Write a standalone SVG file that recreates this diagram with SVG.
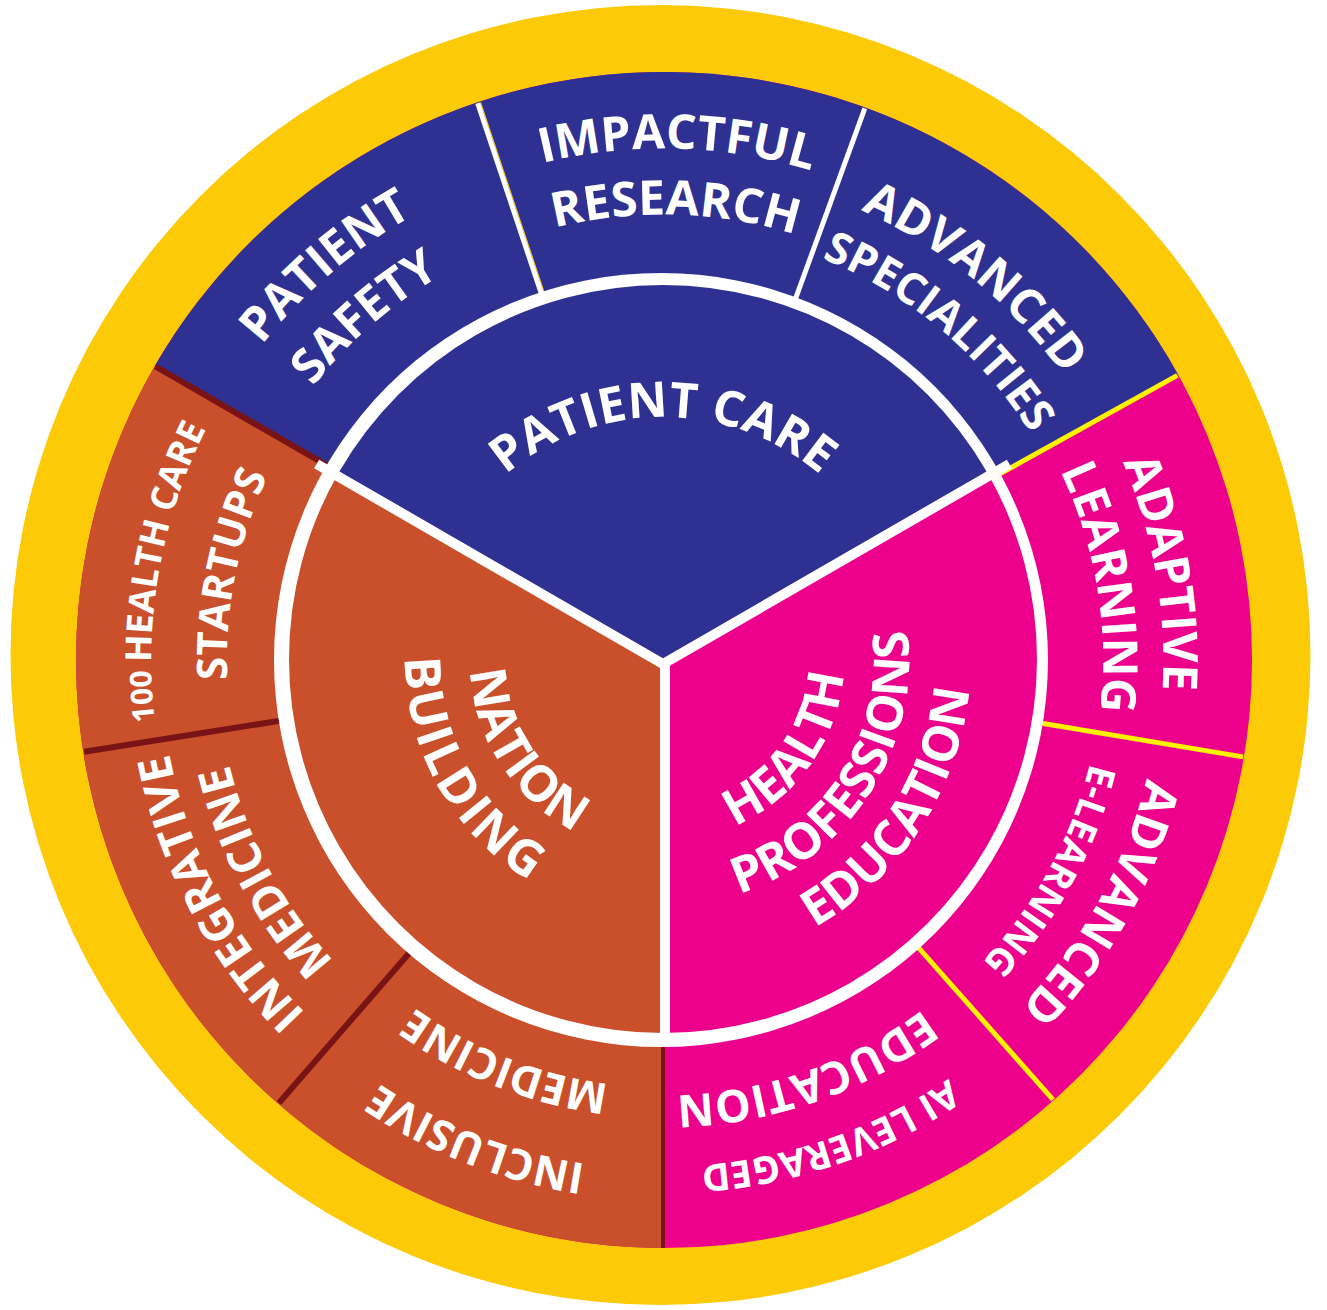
<svg xmlns="http://www.w3.org/2000/svg" width="1327" height="1310" viewBox="0 0 1327 1310">
<defs>
<style>
.t{font-family:"Open Sans","Liberation Sans",sans-serif;font-weight:700;fill:#fff;text-anchor:middle}
.big{font-size:49px}
.in{font-size:50px}
.o{font-size:48px}
.s{font-size:38px}
.w{stroke:#fff;stroke-width:5}
.y{stroke:#FFF200;stroke-width:5}
.r{stroke:#7A1315;stroke-width:6}
.g{stroke:#fff;stroke-width:10;stroke-linecap:butt}
</style>
<path id="p-pc" d="M420,660 A243,243 0 0 1 906,660"/>
<path id="p-nat" d="M557.9,498.1 A193,193 0 0 0 768.1,821.9"/>
<path id="p-bld" d="M536,435.4 A258,258 0 0 0 790,884.6"/>
<path id="p-hea" d="M556.5,808.8 A183,183 0 0 0 769.5,511.2"/>
<path id="p-pro" d="M530.8,867.5 A246,246 0 0 0 795.2,452.5"/>
<path id="p-edu" d="M494.2,920 A310,310 0 0 0 831.8,400"/>
<path id="p-pat" d="M275.7,991.9 A510,510 0 0 1 1050.3,328.1"/>
<path id="p-saf" d="M327.9,951.3 A444,444 0 0 1 998.1,368.7"/>
<path id="p-imp" d="M151.2,645.7 A512,512 0 0 1 1174.8,674.3"/>
<path id="p-res" d="M213.2,647.4 A450,450 0 0 1 1112.8,672.6"/>
<path id="p-adv" d="M277.1,345.3 A498,498 0 0 1 1048.9,974.7"/>
<path id="p-spe" d="M327.5,378.5 A438,438 0 0 1 998.5,941.5"/>
<path id="p-ada" d="M575.8,160.6 A507,507 0 0 1 750.2,1159.4"/>
<path id="p-lea" d="M591.1,225.9 A440,440 0 0 1 734.9,1094.1"/>
<path id="p-ade" d="M904.4,224.4 A498,498 0 0 1 421.6,1095.6"/>
<path id="p-eln" d="M875.8,268.1 A446,446 0 0 1 450.2,1051.9"/>
<path id="p-ail" d="M1143.4,491.8 A509,509 0 0 1 182.6,828.2"/>
<path id="p-aie" d="M1078.5,515.3 A440,440 0 0 1 247.5,804.7"/>
<path id="p-inc" d="M1138.2,845.3 A510,510 0 0 1 187.8,474.7"/>
<path id="p-inm" d="M1065.2,817.6 A432,432 0 0 1 260.8,502.4"/>
<path id="p-int" d="M898.2,1108 A506,506 0 0 1 427.8,212"/>
<path id="p-itm" d="M872.4,1053.8 A446,446 0 0 1 453.6,266.2"/>
<path id="p-hc" d="M573.1,1170.1 A518,518 0 0 1 752.9,149.9"/>
<path id="p-st" d="M578.3,1087.7 A436,436 0 0 1 747.7,232.3"/>
</defs>
<rect width="1327" height="1310" fill="#fff"/>
<circle cx="660.5" cy="655" r="650" fill="#FDCA08"/>
<g id="outer-ring">
<circle cx="664" cy="660" r="588" fill="#EC008C"/>
<path d="M664,660 L1178.3,374.9 A588,588 0 0 0 154.8,366 Z" fill="#2E3192"/>
<path d="M664,660 L154.8,366 A588,588 0 0 0 664,1248 Z" fill="#C9502A"/>
</g>
<g id="connectors">
<line class="y" x1="996.3" y1="475.8" x2="1177.4" y2="375.4"/>
<line class="w" x1="794" y1="302.9" x2="864.8" y2="108.4"/>
<line stroke="#FDCA08" stroke-width="1.2" x1="546.2" y1="298.8" x2="480.5" y2="102.4"/>
<line class="w" x1="543.4" y1="299.6" x2="477.7" y2="103.3"/>
<line class="r" x1="334.9" y1="470" x2="155.6" y2="366.5"/>
<line class="r" x1="288.7" y1="719.4" x2="84.2" y2="751.8"/>
<line class="r" x1="414.7" y1="946.8" x2="278.9" y2="1103"/>
<line stroke="#7A1315" stroke-width="4" x1="663" y1="1040" x2="663" y2="1248"/>
<line class="y" x1="915.8" y1="944.6" x2="1053" y2="1099.7"/>
<line class="y" x1="1038.8" y1="722.7" x2="1243" y2="756.9"/>
</g>
<circle cx="661" cy="660" r="387" fill="#fff"/>
<g id="patient-care">
<path d="M663,659 L986.9,472 A374,374 0 0 0 339.1,472 Z" fill="#2E3192"/>
<text class="t big"><textPath href="#p-pc" startOffset="50%">PATIENT CARE</textPath></text>
</g>
<g id="nation-building">
<path d="M663,659 L339.1,472 A374,374 0 0 0 663,1033 Z" fill="#C9502A"/>
<text class="t in"><textPath href="#p-nat" startOffset="50%">NATION</textPath></text>
<text class="t in" letter-spacing="3"><textPath href="#p-bld" startOffset="50%">BUILDING</textPath></text>
</g>
<g id="health-professions-education">
<path d="M663,659 L663,1033 A374,374 0 0 0 986.9,472 Z" fill="#EC008C"/>
<text class="t in"><textPath href="#p-hea" startOffset="50%">HEALTH</textPath></text>
<text class="t in"><textPath href="#p-pro" startOffset="50%">PROFESSIONS</textPath></text>
<text class="t in"><textPath href="#p-edu" startOffset="50%">EDUCATION</textPath></text>
</g>
<g id="inner-gaps">
<line class="g" x1="663" y1="664" x2="316.6" y2="464"/>
<line class="g" x1="663" y1="664" x2="1009.4" y2="464"/>
<line class="g" x1="665" y1="660" x2="665" y2="1040"/>
</g>
<g id="patient-safety"><text class="t o"><textPath href="#p-pat" startOffset="50%">PATIENT</textPath></text><text class="t o"><textPath href="#p-saf" startOffset="50%">SAFETY</textPath></text></g>
<g id="impactful-research"><text class="t o"><textPath href="#p-imp" startOffset="50%">IMPACTFUL</textPath></text><text class="t o"><textPath href="#p-res" startOffset="50%">RESEARCH</textPath></text></g>
<g id="advanced-specialities"><text class="t o"><textPath href="#p-adv" startOffset="50%">ADVANCED</textPath></text><text class="t" font-size="44"><textPath href="#p-spe" startOffset="50%">SPECIALITIES</textPath></text></g>
<g id="adaptive-learning"><text class="t o"><textPath href="#p-ada" startOffset="50%">ADAPTIVE</textPath></text><text class="t o"><textPath href="#p-lea" startOffset="50%">LEARNING</textPath></text></g>
<g id="advanced-elearning"><text class="t o"><textPath href="#p-ade" startOffset="50%">ADVANCED</textPath></text><text class="t s"><textPath href="#p-eln" startOffset="50%">E-LEARNING</textPath></text></g>
<g id="ai-leveraged-education"><text class="t s"><textPath href="#p-ail" startOffset="50%">AI LEVERAGED</textPath></text><text class="t" font-size="45"><textPath href="#p-aie" startOffset="50%">EDUCATION</textPath></text></g>
<g id="inclusive-medicine"><text class="t" font-size="43"><textPath href="#p-inc" startOffset="50%">INCLUSIVE</textPath></text><text class="t" font-size="43"><textPath href="#p-inm" startOffset="50%">MEDICINE</textPath></text></g>
<g id="integrative-medicine"><text class="t" font-size="46"><textPath href="#p-int" startOffset="50%">INTEGRATIVE</textPath></text><text class="t" font-size="46"><textPath href="#p-itm" startOffset="50%">MEDICINE</textPath></text></g>
<g id="health-care-startups"><text class="t" font-size="36"><textPath href="#p-hc" startOffset="50%"><tspan font-size="30">100 </tspan>HEALTH CARE</textPath></text><text class="t" font-size="42"><textPath href="#p-st" startOffset="50%">STARTUPS</textPath></text></g>
</svg>
